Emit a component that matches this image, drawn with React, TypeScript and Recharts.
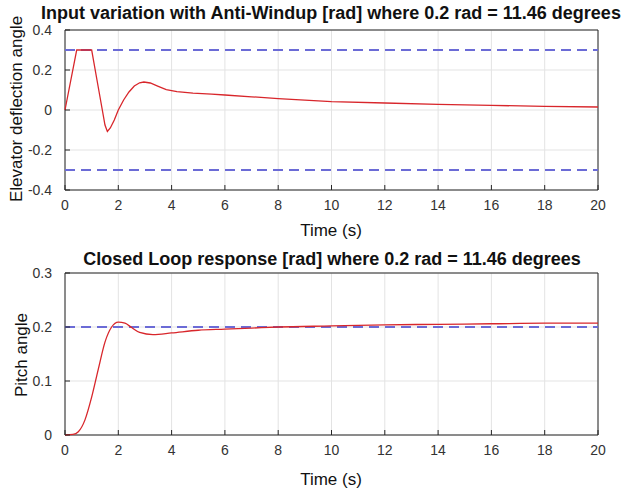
import React from 'react';
import { LineChart, Line, XAxis, YAxis, CartesianGrid, ReferenceLine, ReferenceArea } from 'recharts';

// time ticks shared by both plots
const timeTicks = [0, 2, 4, 6, 8, 10, 12, 14, 16, 18, 20];

// upper plot: elevator deflection with anti-windup
const elevTime = [0, 0.44, 1.0, 1.2, 1.4, 1.5, 1.59, 1.7, 1.85, 2.0, 2.2, 2.4, 2.6, 2.8, 2.96, 3.2, 3.5, 3.8, 4.2, 4.8, 5.5, 6, 7, 8, 9, 10, 12, 14, 16, 18, 20];
const elevator = [0, 0.3, 0.3, 0.15, 0.0, -0.075, -0.107, -0.09, -0.05, 0.0, 0.05, 0.09, 0.12, 0.136, 0.14, 0.135, 0.118, 0.102, 0.092, 0.084, 0.079, 0.075, 0.066, 0.057, 0.049, 0.042, 0.035, 0.028, 0.023, 0.018, 0.015];
const elevTicks = [-0.4, -0.2, 0, 0.2, 0.4];
const elevLimits = [0.3, -0.3];

// lower plot: pitch angle closed loop response
const pitchTime = [0, 0.3, 0.5, 0.75, 1.0, 1.25, 1.5, 1.75, 2.0, 2.25, 2.5, 2.8, 3.3, 4, 5, 6, 7, 8, 10, 12, 14, 16, 18, 20];
const pitch = [0, 0.001, 0.006, 0.028, 0.07, 0.122, 0.172, 0.2, 0.209, 0.207, 0.199, 0.19, 0.186, 0.189, 0.194, 0.196, 0.198, 0.2, 0.202, 0.204, 0.205, 0.206, 0.207, 0.207];
const pitchTicks = [0, 0.1, 0.2, 0.3];
const pitchRef = 0.2;

const elevData = elevTime.map((t, i) => ({ t, v: elevator[i] }));
const pitchData = pitchTime.map((t, i) => ({ t, v: pitch[i] }));

const FONT = '"Liberation Sans", Arial, sans-serif';
const AXIS = '#262626';
const tickStyle = { fontSize: 14, fill: '#333', fontFamily: FONT };
const fmt = (v: number) => (v === 0 ? '0' : String(v));

const textStyle: React.CSSProperties = {
  position: 'absolute', fontFamily: FONT, color: '#111', whiteSpace: 'nowrap', lineHeight: 1,
};

type PlotProps = {
  data: { t: number; v: number }[];
  ticks: number[];
  domain: [number, number];
  refs: number[];
  top: number;
  plotHeight: number;
  curve: 'linear' | 'monotone';
};

function Plot({ data, ticks, domain, refs, top, plotHeight, curve }: PlotProps) {
  // x axis takes 30px under the plot area
  const bottom = 246 - top - plotHeight - 30;
  return (
    <LineChart width={632} height={246} data={data} margin={{ top, right: 34, bottom, left: 20 }}>
      <CartesianGrid stroke="#e3e3e3" />
      <XAxis dataKey="t" type="number" domain={[0, 20]} ticks={timeTicks} height={30}
        tick={tickStyle} tickSize={-5} tickMargin={15} stroke={AXIS} axisLine={false} />
      <XAxis xAxisId="top" dataKey="t" type="number" domain={[0, 20]} ticks={timeTicks} orientation="top" height={0}
        tick={false} tickSize={-5} stroke={AXIS} axisLine={false} />
      <YAxis type="number" domain={domain} ticks={ticks} width={45} tickFormatter={fmt}
        tick={tickStyle} tickSize={-5} tickMargin={18} stroke={AXIS} axisLine={false} />
      <YAxis yAxisId="right" type="number" domain={domain} ticks={ticks} orientation="right" width={0}
        tick={false} tickSize={-5} stroke={AXIS} axisLine={false} />
      <ReferenceArea x1={0} x2={20} y1={domain[0]} y2={domain[1]} fill="none" stroke={AXIS} strokeWidth={1} ifOverflow="visible" />
      {refs.map((r) => (
        <ReferenceLine key={r} y={r} stroke="#6b6bd6" strokeWidth={2} strokeDasharray="10 6" />
      ))}
      <Line dataKey="v" type={curve} stroke="#d8262b" strokeWidth={1.3} dot={false} isAnimationActive={false} />
    </LineChart>
  );
}

export default function App() {
  return (
    <div style={{ position: 'absolute', left: 0, top: 0, width: 632, height: 492, background: '#fff', overflow: 'hidden' }}>
      <div style={{ position: 'absolute', left: 0, top: 0 }}>
        <Plot data={elevData} ticks={elevTicks} domain={[-0.4, 0.4]} refs={elevLimits} top={30} plotHeight={160} curve="linear" />
      </div>
      <div style={{ position: 'absolute', left: 0, top: 246 }}>
        <Plot data={pitchData} ticks={pitchTicks} domain={[0, 0.3]} refs={[pitchRef]} top={27} plotHeight={162} curve="monotone" />
      </div>
      <div style={{ ...textStyle, left: 331, top: 13, transform: 'translate(-50%, -50%)', fontSize: 18, fontWeight: 'bold' }}>
        Input variation with Anti-Windup [rad] where 0.2 rad = 11.46 degrees
      </div>
      <div style={{ ...textStyle, left: 332, top: 259, transform: 'translate(-50%, -50%)', fontSize: 18, fontWeight: 'bold' }}>
        Closed Loop response [rad] where 0.2 rad = 11.46 degrees
      </div>
      <div style={{ ...textStyle, left: 331, top: 230, transform: 'translate(-50%, -50%)', fontSize: 17 }}>Time (s)</div>
      <div style={{ ...textStyle, left: 331, top: 479, transform: 'translate(-50%, -50%)', fontSize: 17 }}>Time (s)</div>
      <div style={{ ...textStyle, left: 16, top: 109, transform: 'translate(-50%, -50%) rotate(-90deg)', fontSize: 17 }}>
        Elevator deflection angle
      </div>
      <div style={{ ...textStyle, left: 21, top: 355, transform: 'translate(-50%, -50%) rotate(-90deg)', fontSize: 17 }}>
        Pitch angle
      </div>
    </div>
  );
}
